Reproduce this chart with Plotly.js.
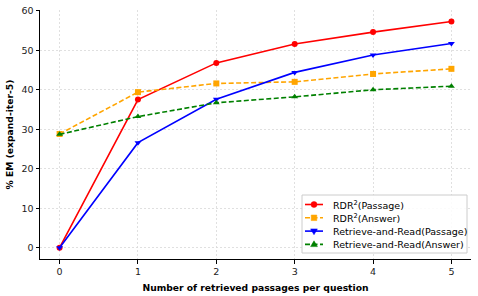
<!DOCTYPE html>
<html><head><meta charset="utf-8">
<script src="https://cdn.plot.ly/plotly-3.0.1.min.js"></script>
<style>html,body{margin:0;padding:0;background:#fff}</style>
</head><body><div id="chart" style="width:478px;height:296px"></div>
<script>
const passages = [0, 1, 2, 3, 4, 5];
const rdrPassage = [0, 37.5, 46.8, 51.6, 54.6, 57.3];
const rdrAnswer = [28.8, 39.4, 41.6, 42.0, 44.0, 45.3];
const rrPassage = [0, 26.6, 37.6, 44.4, 48.8, 51.7];
const rrAnswer = [28.7, 33.2, 36.7, 38.2, 40.0, 40.9];
const seriesNames = ['RDR<sup>2</sup>(Passage)', 'RDR<sup>2</sup>(Answer)', 'Retrieve-and-Read(Passage)', 'Retrieve-and-Read(Answer)'];
const seriesValues = [rdrPassage, rdrAnswer, rrPassage, rrAnswer];
const seriesColors = ['#ff0000', '#ffa500', '#0000ff', '#008000'];
const seriesDash = ['solid', '5px,2.5px', 'solid', '5px,2.5px'];
const seriesSymbols = ['circle', 'square', 'triangle-down', 'triangle-up'];

const data = seriesValues.map((y, i) => ({
  x: passages, y: y, name: seriesNames[i], type: 'scatter', mode: 'lines+markers',
  line: {color: seriesColors[i], width: 1.6, dash: seriesDash[i]},
  marker: {color: seriesColors[i], symbol: seriesSymbols[i], size: 6},
  showlegend: false
}));

// manual compact legend (matplotlib-like) in paper coordinates
const W = 478, H = 296, L = 40, R = 7, T = 10, B = 37;
const pw = W - L - R, ph = H - T - B;
const px = v => (v - L) / pw;
const py = v => (H - B - v) / ph;
const shapes = [], annotations = [];
shapes.push({type: 'rect', xref: 'paper', yref: 'paper', x0: px(302), x1: px(467), y0: py(253), y1: py(195),
  line: {color: '#cccccc', width: 1}, fillcolor: 'rgba(255,255,255,0.85)', layer: 'above'});
const markerPath = {
  'square': 'M-2.8,-2.8 L2.8,-2.8 L2.8,2.8 L-2.8,2.8 Z',
  'triangle-down': 'M-3.4,2.2 L3.4,2.2 L0,-3.6 Z',
  'triangle-up': 'M-3.4,-2.2 L3.4,-2.2 L0,3.6 Z'
};
seriesNames.forEach((name, i) => {
  const rowY = 204.5 + 13.3 * i;
  shapes.push({type: 'line', xref: 'paper', yref: 'paper', x0: px(305), x1: px(323), y0: py(rowY), y1: py(rowY),
    line: {color: seriesColors[i], width: 1.6, dash: seriesDash[i]}, layer: 'above'});
  const sym = seriesSymbols[i];
  if (sym === 'circle') {
    shapes.push({type: 'circle', xref: 'paper', yref: 'paper', xsizemode: 'pixel', ysizemode: 'pixel',
      xanchor: px(314), yanchor: py(rowY), x0: -3, x1: 3, y0: -3, y1: 3,
      fillcolor: seriesColors[i], line: {color: seriesColors[i], width: 0.5}, layer: 'above'});
  } else {
    shapes.push({type: 'path', xref: 'paper', yref: 'paper', xsizemode: 'pixel', ysizemode: 'pixel',
      xanchor: px(314), yanchor: py(rowY), path: markerPath[sym],
      fillcolor: seriesColors[i], line: {color: seriesColors[i], width: 0.5}, layer: 'above'});
  }
  annotations.push({xref: 'paper', yref: 'paper', x: px(331), y: py(rowY), xanchor: 'left', yanchor: 'middle',
    text: name, showarrow: false, font: {family: 'DejaVu Sans', size: 9.5, color: '#000'}});
});

const layout = {
  width: W, height: H,
  margin: {l: L, r: R, t: T, b: B},
  paper_bgcolor: '#fff', plot_bgcolor: '#fff',
  font: {family: 'DejaVu Sans', size: 9, color: '#000'},
  showlegend: false,
  shapes: shapes, annotations: annotations,
  xaxis: {
    range: [-0.25, 5.25], tickvals: passages, ticktext: passages.map(String),
    showline: true, linecolor: '#000', linewidth: 1, ticks: 'outside', ticklen: 3.5, tickcolor: '#000',
    showgrid: true, gridcolor: '#d8d8d8', griddash: '2px,2px', gridwidth: 0.8, zeroline: false,
    tickfont: {family: 'DejaVu Sans', size: 9.5, color: '#222'},
    title: {text: '<b>Number of retrieved passages per question</b>', font: {family: 'DejaVu Sans', size: 9.2, color: '#000'}, standoff: 8}
  },
  yaxis: {
    range: [-2.87, 60.2], tickvals: [0, 10, 20, 30, 40, 50, 60],
    showline: true, linecolor: '#000', linewidth: 1, ticks: 'outside', ticklen: 3.5, tickcolor: '#000',
    showgrid: true, gridcolor: '#d8d8d8', griddash: '2px,2px', gridwidth: 0.8, zeroline: false,
    tickfont: {family: 'DejaVu Sans', size: 9.5, color: '#222'},
    title: {text: '<b>% EM (expand-iter-5)</b>', font: {family: 'DejaVu Sans', size: 9.2, color: '#000'}, standoff: 6}
  }
};
Plotly.newPlot('chart', data, layout, {displayModeBar: false, staticPlot: true});
</script></body></html>
